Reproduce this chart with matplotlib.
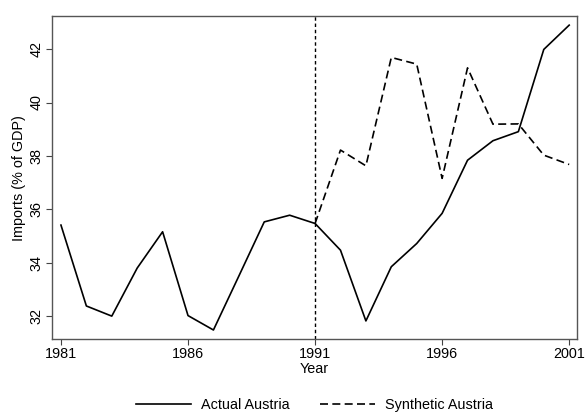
import matplotlib
matplotlib.use("Agg")
import matplotlib.pyplot as plt

years = list(range(1981, 2002))
actual = [35.41, 32.38, 32.00, 33.80, 35.16, 32.02, 31.48, 33.50, 35.53, 35.78,
          35.47, 34.47, 31.82, 33.85, 34.72, 35.85, 37.84, 38.57, 38.91, 41.99, 42.90]
synth_years = list(range(1991, 2002))
synthetic = [35.47, 38.22, 37.63, 41.69, 41.44, 37.16, 41.30, 39.19, 39.20, 38.03, 37.68]
x_ticks = [1981, 1986, 1991, 1996, 2001]
y_ticks = [32, 34, 36, 38, 40, 42]
treatment_year = 1991

plt.rcParams["font.family"] = ["Liberation Sans", "DejaVu Sans"]

fig = plt.figure(figsize=(5.85, 4.12), dpi=100)
ax = fig.add_axes([0.089, 0.177, 0.897, 0.784])

ax.plot(years, actual, color="black", lw=1.2, label="Actual Austria")
ax.plot(synth_years, synthetic, color="black", lw=1.2, dashes=(4.8, 2.6),
        label="Synthetic Austria")
ax.axvline(treatment_year, color="black", lw=1.0, dashes=(2.5, 2))

ax.set_xlim(1980.65, 2001.3)
ax.set_ylim(31.14, 43.24)
ax.set_xticks(x_ticks)
ax.set_yticks(y_ticks)
ax.set_yticklabels([str(v) for v in y_ticks], rotation=90, va="center")
ax.tick_params(axis="both", labelsize=10.4, length=4, width=0.8, color="#444444")
ax.tick_params(axis="x", pad=2)
ax.tick_params(axis="y", pad=2)
for spine in ax.spines.values():
    spine.set_color("#555555")
    spine.set_linewidth(1.0)

ax.set_xlabel("Year", fontsize=10.4, labelpad=0.5)
ax.set_ylabel("Imports (% of GDP)", fontsize=10.4, labelpad=3)

fig.legend(loc="center", bbox_to_anchor=(0.538, 0.017), ncol=2, frameon=False,
           fontsize=10.4, handlelength=3.8, columnspacing=2.1, handletextpad=0.7,
           borderpad=0, borderaxespad=0)

fig.savefig("out.png", dpi=100)
